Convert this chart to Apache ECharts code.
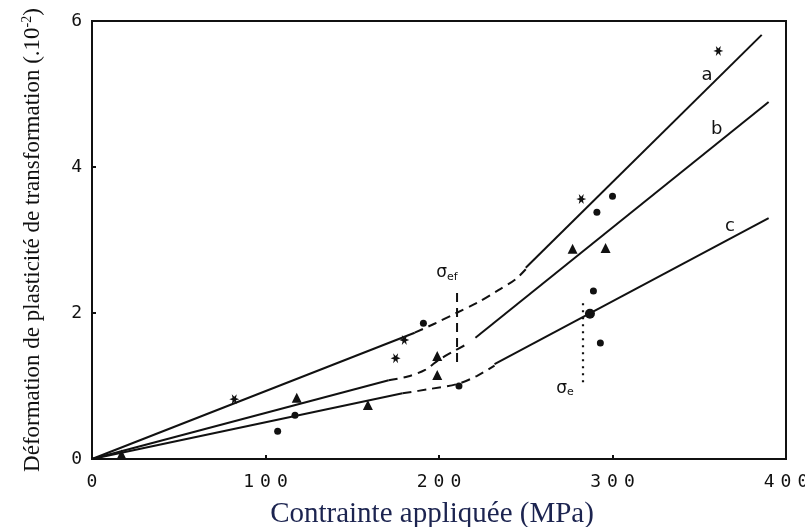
<!DOCTYPE html>
<html>
<head>
<meta charset="utf-8">
<script src="https://cdn.jsdelivr.net/npm/echarts@6/dist/echarts.min.js"></script>
<style>html,body{margin:0;padding:0;background:#fff}#c{width:805px;height:527px}</style>
</head>
<body>
<div id="c"></div>
<script>
// ---- data (x: MPa, y: deformation ×10^-2) ----
const lineA_low  = [[0,0],[186,1.73]];
const lineA_mid  = [[186,1.73],[198,1.86],[210,2.0],[222,2.14],[234,2.31],[244,2.46],[250,2.6]];
const lineA_high = [[250,2.62],[386,5.81]];
const lineB_low  = [[0,0],[171,1.08]];
const lineB_mid  = [[171,1.08],[182,1.13],[192,1.22],[200,1.36],[208,1.47],[215,1.56]];
const lineB_high = [[221,1.66],[390,4.89]];
const lineC_low  = [[0,0],[179,0.90]];
const lineC_mid  = [[179,0.90],[195,0.96],[211,1.03],[222,1.14],[232,1.28]];
const lineC_high = [[232,1.30],[390,3.30]];
const sigmaEf    = [[210.4,1.33],[210.4,2.32]];
const sigmaE     = [[283,1.05],[283,2.14]];
const starPts    = [[82,0.82],[180,1.63],[175,1.38],[282,3.56],[361,5.59]];
const dotPts     = [[107,0.38],[117,0.60],[191,1.86],[211.5,1.0],[291,3.38],[300,3.60],[289,2.30],[293,1.59]];
const bigDotPts  = [[287,1.99]];
const triPts     = [[118,0.84],[159,0.74],[199,1.41],[199,1.15],[277,2.88],[296,2.89],[17,0.06]];
const curveNames = ['a','b','c'];
const curveLabelPos = [[354.5,5.26],[360,4.51],[367.7,3.19]];
const annotNames = ['{s|σ}{sub|ef}','{s|σ}{sub|e}'];
const annotPos   = [[204.6,2.55],[272.6,0.97]];
const xTicks = [0,100,200,300,400];
const yTicks = [0,2,4,6];

const INK = '#111111';
const starPath = 'path://M10,5 L6.73,4 L7.5,0.67 L5,3 L2.5,0.67 L3.27,4 L0,5 L3.27,6 L2.5,9.33 L5,7 L7.5,9.33 L6.73,6 Z';
function spaced(v){ return String(v).split('').map(d => '{d|' + d + '}').join(''); }
const tickRich = { d: { fontFamily: 'DejaVu Sans Mono', fontSize: 18, color: '#111', padding: [0,3,0,3] } };

function lineSeries(data, dashed){
  return { type:'line', data, symbol:'none', smooth: dashed ? 0.3 : false, silent:true,
    lineStyle:{ color: INK, width: 2, type: dashed ? [9,6] : 'solid' } };
}
function markSeries(data, symbol, size){
  return { type:'scatter', data, symbol, symbolSize: size, silent:true,
    itemStyle:{ color: INK, opacity: 1 } };
}
function textSeries(names, pos, labelOpts){
  return { type:'scatter', silent:true, symbol:'circle', symbolSize: 2,
    itemStyle:{ color: INK, opacity: 0 },
    data: names.map((n,i)=>({ name:n, value: pos[i] })),
    label: Object.assign({ show:true, position:[1,1], align:'center', verticalAlign:'middle',
      formatter:'{b}', color: INK, opacity: 1, textBorderWidth: 0 }, labelOpts) };
}

const chart = echarts.init(document.getElementById('c'), null, {renderer:'canvas'});
chart.setOption({
  animation:false,
  backgroundColor:'#fff',
  grid:{ left:92, right:19, top:21, bottom:68, show:true, borderColor: INK, borderWidth: 2,
         containLabel:false, outerBoundsMode:'none' },
  xAxis:{
    type:'value', min: xTicks[0], max: xTicks[xTicks.length-1], interval: 100,
    axisLine:{ lineStyle:{ color: INK, width: 2 } },
    axisTick:{ inside:true, length:4, lineStyle:{ color: INK, width: 2 } },
    axisLabel:{ margin: 14, formatter: spaced, rich: tickRich },
    splitLine:{ show:false },
    name:'Contrainte appliquée (MPa)', nameLocation:'middle', nameGap: 41,
    nameTextStyle:{ fontFamily:'Liberation Serif', fontSize: 29, color:'#1c2450', padding:[0,14,0,0] }
  },
  yAxis:{
    type:'value', min: yTicks[0], max: yTicks[yTicks.length-1], interval: 2,
    axisLine:{ lineStyle:{ color: INK, width: 2 } },
    axisTick:{ inside:true, length:4, lineStyle:{ color: INK, width: 2 } },
    axisLabel:{ margin: 10, formatter: spaced, rich: { d: { fontFamily:'DejaVu Sans Mono', fontSize: 18, color:'#111' } } },
    splitLine:{ show:false },
    name:'Déformation de plasticité de transformation (.10{sup|-2})', nameLocation:'middle', nameGap: 46,
    nameTextStyle:{ fontFamily:'Liberation Serif', fontSize: 23, color:'#111', lineHeight: 26,
      rich:{ sup:{ fontFamily:'Liberation Serif', fontSize: 14, verticalAlign:'top', lineHeight: 26 } } }
  },
  series:[
    lineSeries(lineA_low,false), lineSeries(lineA_mid,true), lineSeries(lineA_high,false),
    lineSeries(lineB_low,false), lineSeries(lineB_mid,true), lineSeries(lineB_high,false),
    lineSeries(lineC_low,false), lineSeries(lineC_mid,true), lineSeries(lineC_high,false),
    { type:'line', data: sigmaEf, symbol:'none', silent:true, lineStyle:{ color: INK, width: 2, type:[9,6] } },
    { type:'line', data: sigmaE, symbol:'none', silent:true, lineStyle:{ color: INK, width: 2.2, type:[2,5] } },
    markSeries(starPts, starPath, 10),
    markSeries(dotPts, 'circle', 7),
    markSeries(bigDotPts, 'circle', 10),
    markSeries(triPts, 'triangle', 10),
    textSeries(curveNames, curveLabelPos, { fontFamily:'DejaVu Sans', fontSize: 18 }),
    textSeries(annotNames, annotPos, {
      rich:{ s:{ fontFamily:'DejaVu Sans', fontSize: 17, color: INK },
             sub:{ fontFamily:'DejaVu Sans', fontSize: 11, color: INK, verticalAlign:'bottom', padding:[8,0,0,0] } } })
  ]
});
</script>
</body>
</html>
